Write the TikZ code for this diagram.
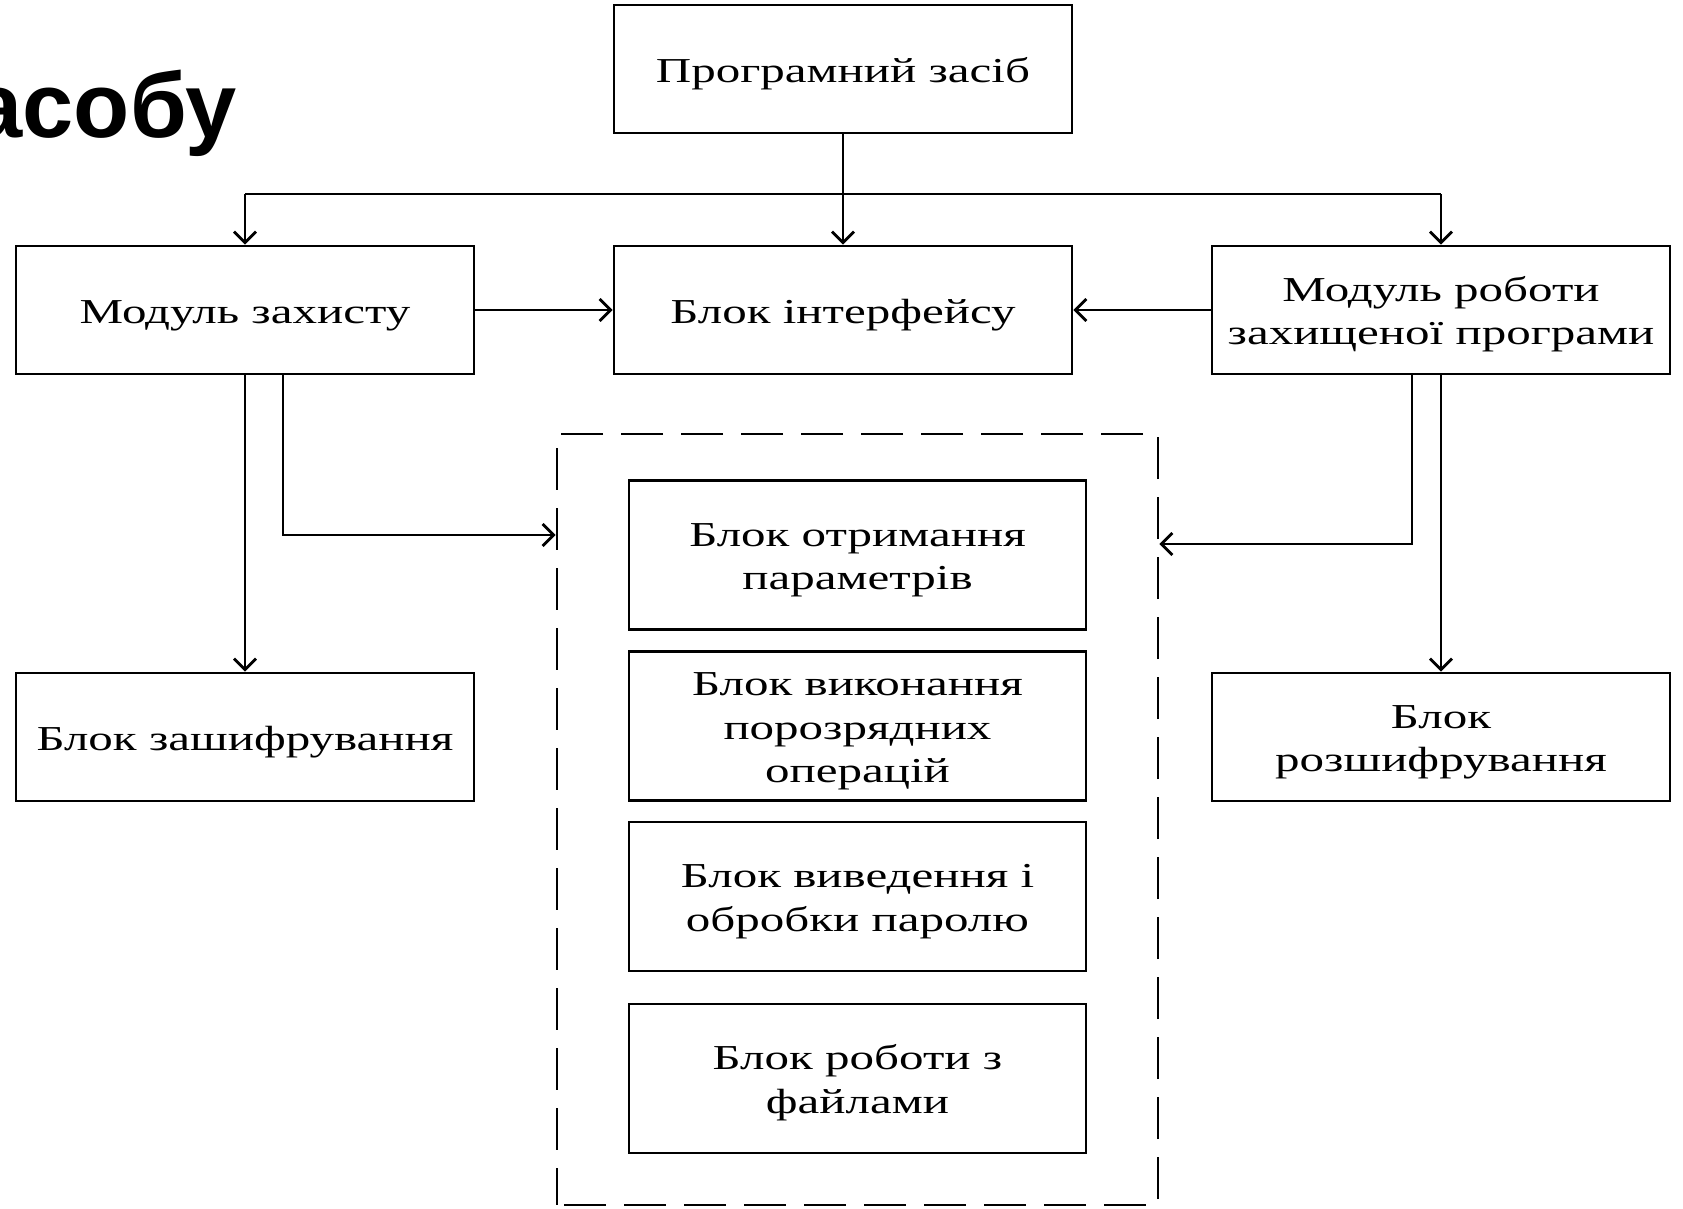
\documentclass[tikz,border=0pt]{standalone}
\usepackage{fontspec}
\setmainfont{Liberation Serif}[FakeStretch=1.4]
\newfontfamily\titlefont{Liberation Sans}
\usetikzlibrary{arrows.meta}
\newcommand\boxtext[1]{\raisebox{-4.5pt}[\height][\depth]{\begin{tabular}{@{}c@{}}#1\end{tabular}}}
\begin{document}
\begin{tikzpicture}[x=1pt,y=-1pt,
  box/.style={draw, line width=2.8pt, inner sep=0pt,
    font=\fontsize{35}{43.5}\selectfont},
  outerbox/.style={box, minimum width=458pt, minimum height=128pt},
  innerbox/.style={box, minimum width=457pt, minimum height=149pt},
  dashbox/.style={draw, line width=2.8pt, dash pattern=on 42pt off 18pt, dash phase=-7pt, inner sep=0pt},
  plain/.style={draw, line width=2.8pt},
  conn/.style={plain, -{Straight Barb[length=11pt,width=22pt]}}
]
\useasboundingbox (0,0) rectangle (1683,1208);

\node[anchor=base east, inner sep=0pt, font=\titlefont\bfseries\fontsize{92}{100}\selectfont] (title) at (237,137) {асобу};

\node[outerbox] (top) at (843,69) {\boxtext{Програмний засіб}};
\node[outerbox] (mz) at (245,310) {\boxtext{Модуль захисту}};
\node[outerbox] (bi) at (843,310) {\boxtext{Блок інтерфейсу}};
\node[outerbox] (mr) at (1441,310) {\boxtext{Модуль роботи\\захищеної програми}};
\node[outerbox] (bz) at (245,737) {\boxtext{Блок зашифрування}};
\node[outerbox] (br) at (1441,737) {\boxtext{Блок\\розшифрування}};

\node[dashbox, minimum width=601pt, minimum height=771pt] (grp) at (857.5,819.5) {};

\node[innerbox] (b1) at (857.5,555) {\boxtext{Блок отримання\\параметрів}};
\node[innerbox] (b2) at (857.5,726) {\boxtext{Блок виконання\\порозрядних\\операцій}};
\node[innerbox] (b3) at (857.5,896.5) {\boxtext{Блок виведення і\\обробки паролю}};
\node[innerbox] (b4) at (857.5,1078.5) {\boxtext{Блок роботи з\\файлами}};

\coordinate (busL) at (245,194);
\coordinate (busR) at (1441,194);
\draw[conn] (top.south) -- (bi.north);
\draw[plain] (busL) -- (busR);
\draw[conn] (busL) -- (mz.north);
\draw[conn] (busR) -- (mr.north);
\draw[conn] (mz.east) -- (bi.west);
\draw[conn] (mr.west) -- (bi.east);
\draw[conn] (mz.south) -- (bz.north);
\draw[conn] (mr.south) -- (br.north);
\draw[conn] ([xshift=38pt]mz.south) |- ([yshift=284.5pt]grp.west);
\draw[conn] ([xshift=-29pt]mr.south) |- ([yshift=275.5pt]grp.east);
\end{tikzpicture}
\end{document}
